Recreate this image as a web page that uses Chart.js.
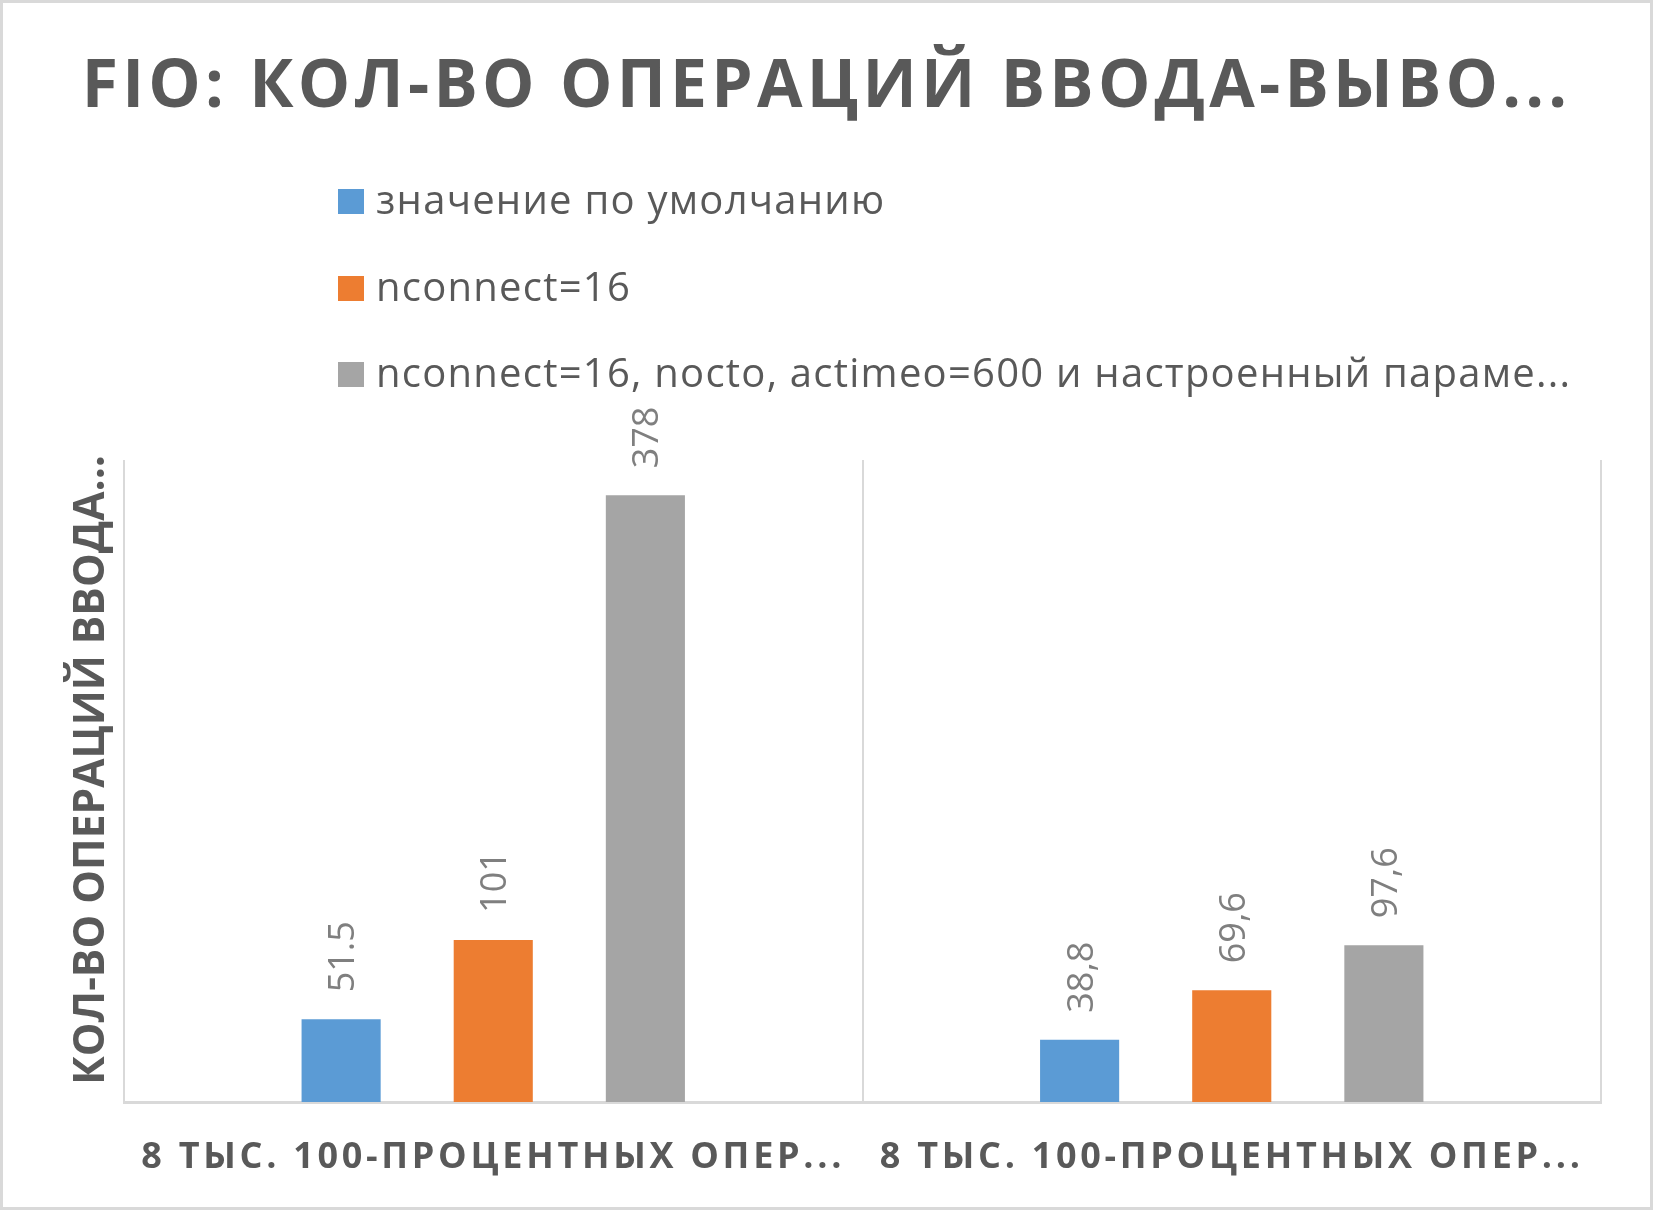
<!DOCTYPE html>
<html>
<head>
<meta charset="utf-8">
<script src="https://cdn.jsdelivr.net/npm/chart.js@4"></script>
<style>
  html, body { margin: 0; padding: 0; background: #fff; }
</style>
</head>
<body>
<canvas id="ioChart" width="1653" height="1210"></canvas>
<script>
const chartTitle = 'FIO: КОЛ-ВО ОПЕРАЦИЙ ВВОДА-ВЫВО...';
const axisTitle = 'КОЛ-ВО ОПЕРАЦИЙ ВВОДА...';
const categories = ['8 ТЫС. 100-ПРОЦЕНТНЫХ ОПЕР...', '8 ТЫС. 100-ПРОЦЕНТНЫХ ОПЕР...'];
const seriesNames = ['значение по умолчанию', 'nconnect=16', 'nconnect=16, nocto, actimeo=600 и настроенный параме...'];
const defaultValues = [51.5, 38.8];
const nconnectValues = [101, 69.6];
const tunedValues = [378, 97.6];
// labels as printed in the picture (mixed decimal separators)
const defaultLabels = ['51.5', '38,8'];
const nconnectLabels = ['101', '69,6'];
const tunedLabels = ['378', '97,6'];
const seriesColors = ['#5b9bd5', '#ed7d31', '#a5a5a5'];

const textGray = '#595959';
const lineGray = '#d9d9d9';
const fontName = '"Open Sans", "DejaVu Sans", sans-serif';

const valueLabels = [defaultLabels, nconnectLabels, tunedLabels];

// white background, frame, spaced tick labels
const framePlugin = {
    id: 'frame',
    beforeDraw(chart) {
        const ctx = chart.ctx;
        ctx.save();
        ctx.fillStyle = '#fff';
        ctx.fillRect(0, 0, chart.width, chart.height);
        ctx.restore();
        ctx.letterSpacing = '3.7px';
    },
    beforeDatasetsDraw(chart) {
        chart.ctx.letterSpacing = '0px';
    },
    afterDraw(chart) {
        const ctx = chart.ctx;
        ctx.save();
        ctx.strokeStyle = lineGray;
        ctx.lineWidth = 3;
        ctx.strokeRect(1.5, 1.5, chart.width - 3, chart.height - 3);
        ctx.restore();
    }
};

// title, axis title and vertical legend
const headerPlugin = {
    id: 'header',
    afterDraw(chart) {
        const ctx = chart.ctx;
        const area = chart.chartArea;
        ctx.save();
        ctx.fillStyle = textGray;
        ctx.letterSpacing = '4.2px';
        ctx.font = 'bold 66px ' + fontName;
        ctx.textAlign = 'center';
        ctx.textBaseline = 'alphabetic';
        ctx.fillText(chartTitle, chart.width / 2, 107);

        // y axis title
        ctx.letterSpacing = '0px';
        ctx.font = 'bold 42.5px ' + fontName;
        ctx.save();
        ctx.translate(104, (area.top + area.bottom) / 2 - 11);
        ctx.rotate(-Math.PI / 2);
        ctx.fillText(axisTitle, 0, 0);
        ctx.restore();

        ctx.letterSpacing = '1.25px';
        ctx.font = '40px ' + fontName;
        ctx.textAlign = 'left';
        const rowBottoms = [214, 301, 387];
        seriesNames.forEach((name, i) => {
            ctx.fillStyle = seriesColors[i];
            ctx.fillRect(338, rowBottoms[i] - 25, 26, 25);
            ctx.fillStyle = textGray;
            ctx.fillText(name, 376, rowBottoms[i]);
        });
        ctx.restore();
    }
};

// rotated value labels above the bars
const valueLabelPlugin = {
    id: 'valueLabels',
    afterDatasetsDraw(chart) {
        const ctx = chart.ctx;
        ctx.save();
        ctx.letterSpacing = '0px';
        ctx.font = '36px ' + fontName;
        ctx.fillStyle = '#7f7f7f';
        ctx.textAlign = 'left';
        ctx.textBaseline = 'alphabetic';
        chart.data.datasets.forEach((ds, di) => {
            chart.getDatasetMeta(di).data.forEach((bar, i) => {
                ctx.save();
                ctx.translate(bar.x + 13, bar.y - 27);
                ctx.rotate(-Math.PI / 2);
                ctx.fillText(valueLabels[di][i], 0, 0);
                ctx.restore();
            });
        });
        ctx.restore();
    }
};

const ctx = document.getElementById('ioChart').getContext('2d');
const ioChart = new Chart(ctx, {
    type: 'bar',
    data: {
        labels: categories,
        datasets: [
            { label: seriesNames[0], data: defaultValues, backgroundColor: seriesColors[0] },
            { label: seriesNames[1], data: nconnectValues, backgroundColor: seriesColors[1] },
            { label: seriesNames[2], data: tunedValues, backgroundColor: seriesColors[2] }
        ]
    },
    options: {
        responsive: false,
        animation: false,
        categoryPercentage: 0.618,
        barPercentage: 0.52,
        layout: {
            padding: { top: 460, left: 124, right: 52, bottom: -4 }
        },
        plugins: {
            legend: { display: false },
            title: { display: false },
            tooltip: { enabled: false }
        },
        scales: {
            x: {
                grid: { display: true, offset: true, color: lineGray, lineWidth: 2, drawTicks: false },
                border: { display: true, color: lineGray, width: 3 },
                ticks: {
                    color: textGray,
                    font: { family: fontName, size: 36, weight: 'bold', lineHeight: 1 },
                    padding: 38,
                    autoSkip: false,
                    maxRotation: 0,
                    minRotation: 0
                }
            },
            y: {
                display: false,
                min: 0,
                max: 400
            }
        }
    },
    plugins: [framePlugin, headerPlugin, valueLabelPlugin]
});
</script>
</body>
</html>
